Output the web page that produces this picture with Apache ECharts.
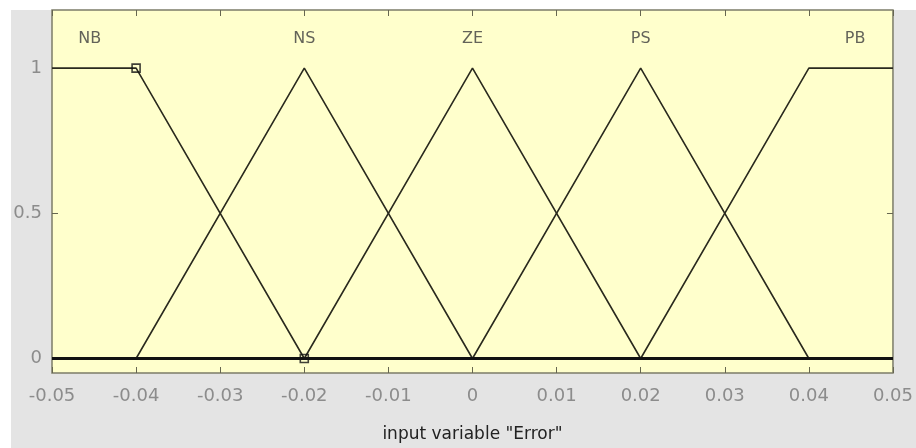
<!DOCTYPE html>
<html>
<head>
<meta charset="utf-8">
<script src="https://cdn.jsdelivr.net/npm/echarts@6/dist/echarts.min.js"></script>
<style>
html,body{margin:0;padding:0;background:#ffffff;}
#c{width:916px;height:448px;}
</style>
</head>
<body>
<div id="c"></div>
<script>
// ---- data ----
var mfNames = ['NB', 'NS', 'ZE', 'PS', 'PB'];
var xDomain = [-0.05, 0.05];
// membership functions as (x, mu) breakpoints over the full input range
var mfNB = [[-0.05, 1], [-0.04, 1], [-0.02, 0], [0.05, 0]];
var mfNS = [[-0.05, 0], [-0.04, 0], [-0.02, 1], [0, 0], [0.05, 0]];
var mfZE = [[-0.05, 0], [-0.02, 0], [0, 1], [0.02, 0], [0.05, 0]];
var mfPS = [[-0.05, 0], [0, 0], [0.02, 1], [0.04, 0], [0.05, 0]];
var mfPB = [[-0.05, 0], [0.02, 0], [0.04, 1], [0.05, 1]];
var mfLabelX = [-0.0455, -0.02, 0, 0.02, 0.0455];
var mfLabelY = 1.1;
var selectedPoints = [[-0.04, 1], [-0.02, 0]];
var xTicks = [-0.05, -0.04, -0.03, -0.02, -0.01, 0, 0.01, 0.02, 0.03, 0.04, 0.05];
var yTicks = [0, 0.5, 1];
var xLabel = 'input variable "Error"';

// ---- chart ----
var lineColor = '#2a2a1e';
var borderColor = '#7c7c68';
var tickColor = '#666650';
var allMfs = [mfNB, mfNS, mfZE, mfPS, mfPB];
var series = allMfs.map(function (d, i) {
  var s = {
    type: 'line', data: d, symbol: 'none', silent: true,
    lineStyle: { color: lineColor, width: 1.6 }, z: 3
  };
  if (i === 0) {
    s.markLine = {
      silent: true, symbol: 'none', label: { show: false },
      lineStyle: { color: '#111', width: 3, type: 'solid' },
      data: [{ yAxis: 0 }]
    };
  }
  return s;
});
series.push({
  type: 'scatter', symbol: 'rect', symbolSize: 8, silent: true, z: 5,
  itemStyle: { color: 'rgba(0,0,0,0)', borderColor: '#111', borderWidth: 1.6 },
  data: selectedPoints
});
series.push({
  type: 'scatter', symbolSize: 0, silent: true, z: 6,
  data: mfLabelX.map(function (x, i) { return { value: [x, mfLabelY], name: mfNames[i] }; }),
  label: {
    show: true, position: 'inside', formatter: '{b}',
    color: '#3c3c3c', fontSize: 16, fontFamily: 'DejaVu Sans'
  }
});

function fmt(v) {
  var r = Math.round(v * 100) / 100;
  return String(r);
}

var tickLabelStyle = { color: '#8c8c8c', fontSize: 18, fontFamily: 'DejaVu Sans' };
function tickStyle(vals) {
  return { show: true, inside: true, length: 6, customValues: vals, lineStyle: { color: tickColor, width: 1 } };
}

var option = {
  animation: false,
  backgroundColor: '#ffffff',
  graphic: [{
    type: 'rect', left: 11, top: 10, z: -10,
    shape: { width: 905, height: 438 },
    style: { fill: '#e4e4e4' }
  }],
  grid: {
    left: 52, right: 23, top: 10, bottom: 72,
    show: true, backgroundColor: '#ffffcc', borderColor: borderColor, borderWidth: 1.5
  },
  xAxis: [{
    type: 'value', min: xDomain[0], max: xDomain[1],
    name: xLabel, nameLocation: 'middle', nameGap: 53,
    nameTextStyle: { color: '#222', fontSize: 17, fontFamily: 'DejaVu Sans' },
    axisLine: { show: false, onZero: false },
    splitLine: { show: false },
    axisTick: tickStyle(xTicks),
    axisLabel: Object.assign({ customValues: xTicks, margin: 14, formatter: fmt, showMinLabel: true, showMaxLabel: true }, tickLabelStyle)
  }, {
    type: 'value', position: 'top', min: xDomain[0], max: xDomain[1],
    axisLine: { show: false, onZero: false }, splitLine: { show: false },
    axisTick: tickStyle(xTicks),
    axisLabel: { show: false }
  }],
  yAxis: [{
    type: 'value', min: -0.05, max: 1.2,
    axisLine: { show: false, onZero: false }, splitLine: { show: false },
    axisTick: tickStyle(yTicks),
    axisLabel: Object.assign({ customValues: yTicks, margin: 10, formatter: fmt }, tickLabelStyle)
  }, {
    type: 'value', position: 'right', min: -0.05, max: 1.2,
    axisLine: { show: false, onZero: false }, splitLine: { show: false },
    axisTick: tickStyle(yTicks),
    axisLabel: { show: false }
  }],
  series: series
};

var chart = echarts.init(document.getElementById('c'), null, { renderer: 'canvas' });
chart.setOption(option);
</script>
</body>
</html>
